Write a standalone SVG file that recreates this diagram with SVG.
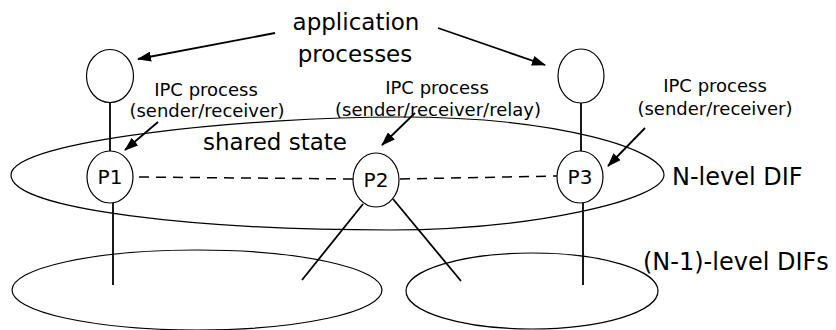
<svg xmlns="http://www.w3.org/2000/svg" width="836" height="330" viewBox="0 0 836 330">
<style>
.sh{fill:none;stroke:#000;stroke-width:1.2}
.nd{fill:#fff;stroke:#000;stroke-width:1.2}
.ln{fill:none;stroke:#000;stroke-width:1.8}
.ar{fill:none;stroke:#000;stroke-width:1.8;marker-end:url(#ah)}
.dash{fill:none;stroke:#000;stroke-width:1.5;stroke-dasharray:10 7}
text{font-family:"DejaVu Sans","Liberation Sans",sans-serif;fill:#000}
.big{font-size:23px}
.dif{font-size:24px}
.mid{font-size:23px}
.pl{font-size:20px;text-anchor:middle}
.sm{font-size:18px;text-anchor:middle}
.c{text-anchor:middle}
</style>
<defs>
<marker id="ah" viewBox="0 0 14 10" refX="13" refY="5" markerWidth="14" markerHeight="10" markerUnits="userSpaceOnUse" orient="auto">
<path d="M0,0 L14,5 L0,10 Z" fill="#000"/>
</marker>
</defs>
<g id="dif-n">
<path class="sh" d="M11,175 C11,140 250,117 400,117 C560,117 664,150 664,175 C664,200 530,230 390,230 C200,230 11,210 11,175 Z"/>
</g>
<g id="dif-n1-left"><ellipse class="sh" cx="197" cy="290" rx="185" ry="40"/></g>
<g id="dif-n1-right"><ellipse class="sh" cx="532" cy="291" rx="126" ry="38"/></g>
<g id="connectors">
<line class="ln" x1="110" y1="102" x2="110" y2="151"/>
<line class="ln" x1="581" y1="103" x2="581" y2="151"/>
<line class="ln" x1="113" y1="203" x2="113" y2="285"/>
<line class="ln" x1="583" y1="203" x2="583" y2="285"/>
<line class="ln" x1="363" y1="204" x2="302" y2="280"/>
<line class="ln" x1="393" y1="199" x2="461" y2="281"/>
<line class="dash" x1="139" y1="177" x2="353" y2="179"/>
<line class="dash" x1="400" y1="179" x2="557" y2="176"/>
<line class="ar" x1="275" y1="33" x2="138" y2="59"/>
<line class="ar" x1="438" y1="28" x2="545" y2="65"/>
<line class="ar" x1="158" y1="122" x2="125" y2="150"/>
<line class="ar" x1="415" y1="113" x2="382" y2="145"/>
<line class="ar" x1="645" y1="128" x2="608" y2="166"/>
</g>
<g id="app1"><ellipse class="nd" cx="110" cy="76" rx="23.5" ry="26.5"/></g>
<g id="app3"><ellipse class="nd" cx="581" cy="76" rx="23" ry="27"/></g>
<g id="p1"><ellipse class="nd" cx="110" cy="177" rx="23" ry="26"/><text class="pl" x="110" y="184">P1</text></g>
<g id="p2"><ellipse class="nd" cx="376" cy="180" rx="23" ry="27"/><text class="pl" x="376" y="187">P2</text></g>
<g id="p3"><ellipse class="nd" cx="580" cy="177" rx="23" ry="26"/><text class="pl" x="580" y="184">P3</text></g>
<g id="labels">
<text class="big c" x="356" y="30">application</text>
<text class="big c" x="355" y="62">processes</text>
<text class="sm" x="206" y="96">IPC process</text>
<text class="sm" x="207" y="117">(sender/receiver)</text>
<text class="sm" x="437" y="94">IPC process</text>
<text class="sm" x="438" y="116">(sender/receiver/relay)</text>
<text class="sm" x="715" y="92">IPC process</text>
<text class="sm" x="715" y="115">(sender/receiver)</text>
<text class="mid c" x="275" y="150">shared state</text>
<text class="dif" x="672" y="185">N-level DIF</text>
<text class="dif" x="643" y="270">(N-1)-level DIFs</text>
</g>
</svg>
